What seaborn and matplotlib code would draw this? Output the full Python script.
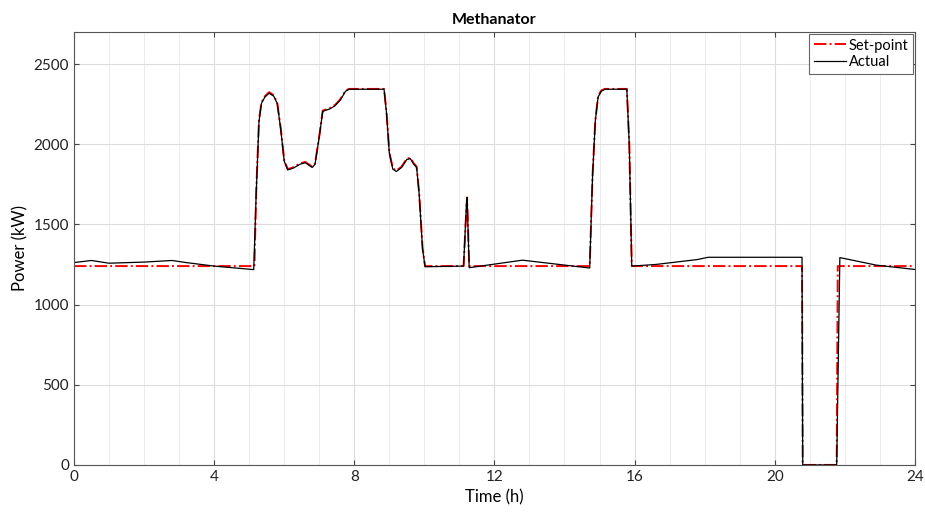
import numpy as np
import matplotlib.pyplot as plt
import seaborn as sns
from matplotlib.ticker import MultipleLocator

# set-point (time in h, power in kW)
t_sp = [0, 5.15, 5.2, 5.28, 5.35, 5.45, 5.57, 5.7, 5.8, 5.9, 6.0, 6.1, 6.25, 6.45, 6.6,
        6.8, 6.88, 7.0, 7.1, 7.3, 7.45, 7.6, 7.75, 7.85, 8.85, 8.92, 9.0, 9.1, 9.2, 9.35,
        9.5, 9.6, 9.7, 9.78, 9.85, 9.95, 10.02, 11.12, 11.2, 11.22, 11.28, 14.72, 14.8,
        14.88, 14.96, 15.05, 15.15, 15.78, 15.85, 15.92, 20.78, 20.8, 21.77, 21.8, 24]
p_sp = [1240, 1240, 1700, 2150, 2260, 2300, 2325, 2305, 2260, 2100, 1900, 1845, 1855, 1880, 1890,
        1860, 1880, 2050, 2210, 2225, 2245, 2280, 2335, 2345, 2345, 2200, 1950, 1850, 1835, 1860,
        1910, 1915, 1880, 1860, 1700, 1350, 1240, 1240, 1600, 1668, 1240, 1240, 1800,
        2150, 2300, 2335, 2345, 2345, 2000, 1240, 1240, 0, 0, 1240, 1240]

# actual
t_act = [0, 0.5, 1.0, 2.0, 2.8, 3.2, 4.0, 5.13, 5.2, 5.28, 5.35, 5.45, 5.57, 5.7, 5.8, 5.9,
         6.0, 6.1, 6.25, 6.45, 6.6, 6.8, 6.88, 7.0, 7.1, 7.3, 7.45, 7.6, 7.75, 7.85, 8.85,
         8.92, 9.0, 9.1, 9.2, 9.35, 9.5, 9.6, 9.7, 9.78, 9.85, 9.95, 10.02, 11.12, 11.2,
         11.22, 11.28, 12.8, 14.72, 14.8, 14.88, 14.96, 15.05, 15.15, 15.78, 15.85, 15.92,
         16.6, 17.8, 18.1, 20.78, 20.8, 21.77, 21.86, 22.9, 24]
p_act = [1262, 1275, 1258, 1265, 1275, 1262, 1240, 1218, 1690, 2140, 2255, 2295, 2318, 2300, 2255, 2095,
         1895, 1840, 1850, 1875, 1885, 1855, 1875, 2045, 2205, 2220, 2240, 2275, 2330, 2343, 2343,
         2195, 1945, 1845, 1830, 1855, 1905, 1910, 1875, 1855, 1695, 1345, 1236, 1240, 1620,
         1668, 1230, 1277, 1228, 1795, 2145, 2295, 2330, 2343, 2343, 1995, 1240,
         1250, 1281, 1295, 1295, 0, 0, 1293, 1246, 1219]

fig, ax = plt.subplots(figsize=(9.25, 5.16), dpi=100)
plt.rcParams['font.family'] = ['Lato', 'DejaVu Sans']

sns.lineplot(x=t_sp, y=p_sp, ax=ax, color='red', lw=1.4, ls='-.', label='Set-point')
sns.lineplot(x=t_act, y=p_act, ax=ax, color='black', lw=0.9, label='Actual')

ax.set_xlim(0, 24)
ax.set_ylim(0, 2700)
ax.xaxis.set_major_locator(MultipleLocator(4))
ax.xaxis.set_minor_locator(MultipleLocator(1))
ax.yaxis.set_major_locator(MultipleLocator(500))
ax.grid(True, which='major', color='#dcdcdc', lw=0.8)
ax.grid(True, which='minor', axis='x', color='#ececec', lw=0.7)
ax.tick_params(which='both', direction='in', top=True, right=True, labelsize=11,
               color='#444444', labelcolor='#222222')
ax.tick_params(which='minor', length=0)
for s in ax.spines.values():
    s.set_color('#555555')
    s.set_linewidth(0.8)

ax.set_title('Methanator', fontsize=11.5, fontweight='bold', family=['Lato', 'DejaVu Sans'])
ax.set_xlabel('Time (h)', fontsize=12, family=['Lato', 'DejaVu Sans'])
ax.set_ylabel('Power (kW)', fontsize=12, family=['Lato', 'DejaVu Sans'])
for lab in ax.get_xticklabels() + ax.get_yticklabels():
    lab.set_family(['Lato', 'DejaVu Sans'])

leg = ax.legend(loc='upper right', fontsize=10.5, fancybox=False, framealpha=1,
                edgecolor='#666666', handlelength=2.2, handletextpad=0.2, borderpad=0.3,
                labelspacing=0.2, borderaxespad=0.15, prop={'family': ['Lato', 'DejaVu Sans'], 'size': 10.5})
leg.get_frame().set_linewidth(0.8)

plt.subplots_adjust(left=0.08, right=0.989, top=0.938, bottom=0.099)
plt.savefig('out.png', dpi=100)
